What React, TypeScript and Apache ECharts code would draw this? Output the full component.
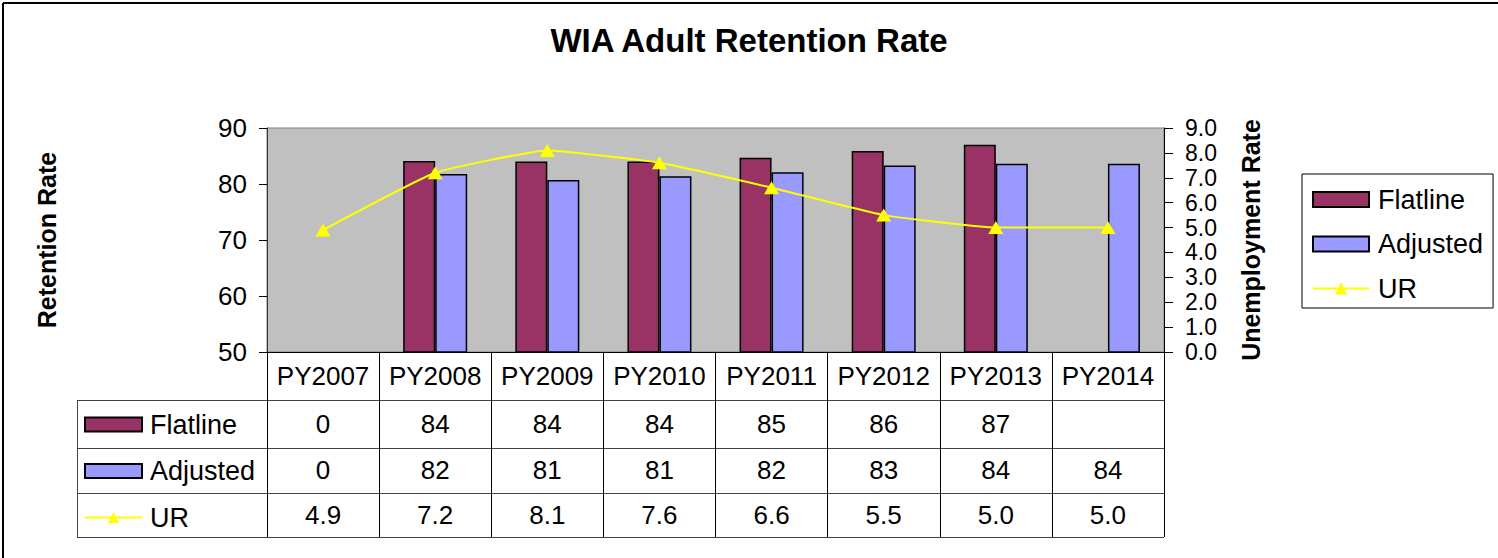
import React, { useEffect, useRef } from "react";
import * as echarts from "echarts";

const categories = ["PY2007", "PY2008", "PY2009", "PY2010", "PY2011", "PY2012", "PY2013", "PY2014"];
const flatline: (number | null)[] = [0, 84.1, 84.0, 84.0, 84.7, 85.9, 87.0, null];
const adjusted: (number | null)[] = [0, 81.8, 80.7, 81.4, 82.1, 83.3, 83.6, 83.6];
const ur: number[] = [4.9, 7.2, 8.1, 7.6, 6.6, 5.5, 5.0, 5.0];
const leftTicks = { min: 50, max: 90, interval: 10 };
const rightTicks = { min: 0, max: 9, interval: 1 };

const FONT = "'Liberation Sans', Arial, sans-serif";

export default function App() {
  const ref = useRef<HTMLDivElement>(null);

  useEffect(() => {
    if (!ref.current) return;
    const chart = echarts.init(ref.current, undefined, { renderer: "svg" });

    const barVal = (arr: (number | null)[]) => arr.map((v) => (v === null || v < leftTicks.min ? null : v));
    const fmtInt = (arr: (number | null)[]) => arr.map((v) => (v === null ? "" : String(Math.round(v))));
    const fmt1 = (arr: number[]) => arr.map((v) => v.toFixed(1));

    const rowAxis = (labels: string[], offset: number) => ({
      type: "category",
      gridIndex: 0,
      position: "bottom",
      offset,
      data: categories,
      axisLine: { show: false },
      axisTick: { show: false },
      splitLine: { show: false },
      axisLabel: {
        interval: 0,
        margin: 0,
        verticalAlign: "middle",
        fontSize: 26,
        fontFamily: FONT,
        color: "#000",
        formatter: (_v: string, i: number) => labels[i],
      },
    });

    const TL = 77, TR = 1164;
    const rowLines = [400, 448, 493, 537];
    const legendData = [
      { name: "Flatline", icon: "rect" },
      { name: "Adjusted", icon: "rect" },
      { name: "UR" },
    ];

    chart.setOption({
      animation: false,
      backgroundColor: "#fff",
      textStyle: { fontFamily: FONT },
      title: {
        text: "WIA Adult Retention Rate",
        left: "center",
        top: 24,
        padding: 0,
        textStyle: { fontSize: 33, fontWeight: "bold", color: "#000", fontFamily: FONT },
      },
      grid: {
        left: 267,
        right: 1498 - 1164,
        top: 128,
        bottom: 558 - 352,
        show: true,
        backgroundColor: "#C0C0C0",
        borderColor: "#808080",
        borderWidth: 1,
      },
      legend: [
        {
          orient: "vertical",
          left: 1302,
          top: 174,
          padding: [12, 10, 6, 10],
          borderColor: "#000",
          borderWidth: 1,
          itemWidth: 56,
          itemHeight: 15,
          itemGap: 17.5,
          selectedMode: false,
          data: legendData,
          textStyle: { fontSize: 27, lineHeight: 26, color: "#000", fontFamily: FONT, padding: [0, 0, 0, 4] },
        },
        {
          orient: "vertical",
          left: 84,
          top: 411,
          padding: 0,
          itemWidth: 57,
          itemHeight: 14,
          itemGap: 19.5,
          selectedMode: false,
          data: legendData,
          textStyle: { fontSize: 27, lineHeight: 26, color: "#000", fontFamily: FONT, padding: [0, 0, 0, 3] },
        },
      ],
      xAxis: [
        {
          type: "category",
          gridIndex: 0,
          position: "bottom",
          data: categories,
          axisLine: { show: true, lineStyle: { color: "#000", width: 1 } },
          axisTick: { show: true, length: 185, lineStyle: { color: "#000", width: 1 } },
          axisLabel: {
            interval: 0,
            margin: 24,
            verticalAlign: "middle",
            fontSize: 26,
            fontFamily: FONT,
            color: "#000",
          },
        },
        rowAxis(fmtInt(flatline), 72),
        rowAxis(fmtInt(adjusted), 118),
        rowAxis(fmt1(ur), 163),
      ],
      yAxis: [
        {
          type: "value",
          min: leftTicks.min,
          max: leftTicks.max,
          interval: leftTicks.interval,
          position: "left",
          name: "Retention Rate",
          nameLocation: "middle",
          nameRotate: 90,
          nameGap: 208,
          nameTextStyle: { fontSize: 25, fontWeight: "bold", color: "#000", fontFamily: FONT },
          axisLine: { show: true, lineStyle: { color: "#333", width: 1 } },
          axisTick: { show: true, length: 8, lineStyle: { color: "#000" } },
          axisLabel: { fontSize: 26, margin: 20, color: "#000", fontFamily: FONT },
          splitLine: { show: false },
        },
        {
          type: "value",
          min: rightTicks.min,
          max: rightTicks.max,
          interval: rightTicks.interval,
          position: "right",
          name: "Unemployment Rate",
          nameLocation: "middle",
          nameRotate: 90,
          nameGap: 74,
          nameTextStyle: { fontSize: 25, fontWeight: "bold", color: "#000", fontFamily: FONT },
          axisLine: { show: true, lineStyle: { color: "#000", width: 1 } },
          axisTick: { show: true, length: 9, lineStyle: { color: "#000" } },
          axisLabel: {
            fontSize: 23,
            lineHeight: 22,
            margin: 21,
            color: "#000",
            fontFamily: FONT,
            formatter: (v: number) => v.toFixed(1),
          },
          splitLine: { show: false },
        },
      ],
      series: [
        {
          name: "Flatline",
          type: "bar",
          xAxisIndex: 0,
          yAxisIndex: 0,
          data: barVal(flatline),
          barWidth: 32,
          barGap: "0%",
          itemStyle: { color: "#993366", borderColor: "#000", borderWidth: 1.5 },
        },
        {
          name: "Adjusted",
          type: "bar",
          xAxisIndex: 0,
          yAxisIndex: 0,
          data: barVal(adjusted),
          barWidth: 32,
          barGap: "0%",
          itemStyle: { color: "#9999FF", borderColor: "#000", borderWidth: 1.5 },
        },
        {
          name: "UR",
          type: "line",
          xAxisIndex: 0,
          yAxisIndex: 1,
          data: ur,
          smooth: 0.12,
          symbol: "triangle",
          symbolSize: [15, 13],
          lineStyle: { color: "#FFFF00", width: 2 },
          itemStyle: { color: "#FFFF00" },
          z: 5,
        },
      ],
      graphic: [
        { type: "line", shape: { x1: 3, y1: 3, x2: 1498, y2: 3 }, style: { stroke: "#000", lineWidth: 2 } },
        { type: "line", shape: { x1: 3, y1: 3, x2: 3, y2: 558 }, style: { stroke: "#000", lineWidth: 2 } },
        ...rowLines.map((y) => ({
          type: "line",
          shape: { x1: TL, y1: y + 0.5, x2: TR, y2: y + 0.5 },
          style: { stroke: "#444", lineWidth: 1 },
        })),
        {
          type: "line",
          shape: { x1: TL + 0.5, y1: rowLines[0], x2: TL + 0.5, y2: rowLines[rowLines.length - 1] },
          style: { stroke: "#444", lineWidth: 1 },
        },
      ],
    });

    return () => chart.dispose();
  }, []);

  return (
    <div
      ref={ref}
      style={{ position: "absolute", left: 0, top: 0, width: 1498, height: 558 }}
    />
  );
}
